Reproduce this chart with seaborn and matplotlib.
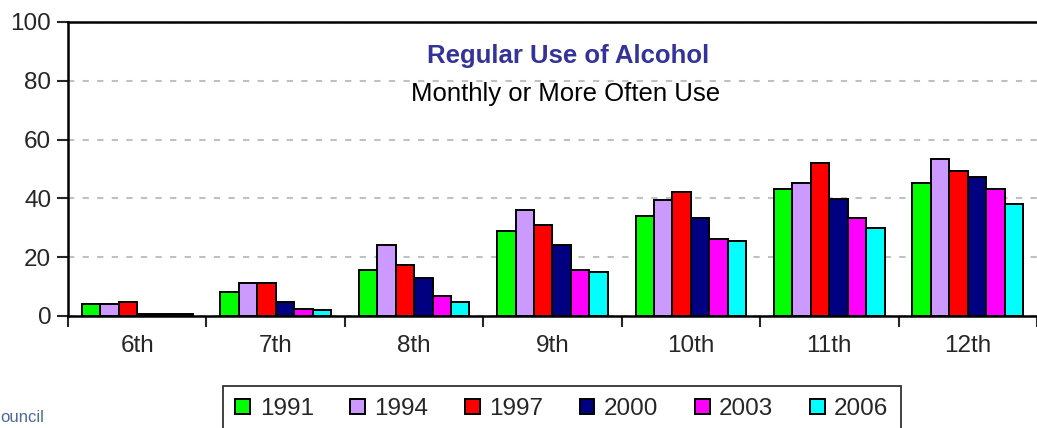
import pandas as pd
import matplotlib.pyplot as plt
import seaborn as sns

# Regular use of alcohol (monthly or more often), % by grade and survey year
grades = ["6th", "7th", "8th", "9th", "10th", "11th", "12th"]
years = ["1991", "1994", "1997", "2000", "2003", "2006"]
y1991 = [4.2, 8.2, 15.8, 29.0, 34.0, 43.1, 45.1]
y1994 = [4.2, 11.1, 24.1, 36.0, 39.6, 45.2, 53.5]
y1997 = [4.9, 11.1, 17.2, 31.1, 42.3, 52.1, 49.4]
y2000 = [0.8, 4.9, 13.0, 24.1, 33.4, 39.7, 47.2]
y2003 = [0.8, 2.5, 6.8, 15.8, 26.3, 33.3, 43.1]
y2006 = [0.8, 1.9, 4.7, 15.1, 25.6, 29.8, 38.1]
colors = ["#00ff00", "#cc99ff", "#ff0000", "#000080", "#ff00ff", "#00ffff"]

series = [y1991, y1994, y1997, y2000, y2003, y2006]
rows = []
for yr, vals in zip(years, series):
    for g, v in zip(grades, vals):
        rows.append({"grade": g, "year": yr, "pct": v})
df = pd.DataFrame(rows)

sns.set_style("white")
plt.rcParams["font.family"] = ["Liberation Sans", "DejaVu Sans"]

fig = plt.figure(figsize=(10.37, 4.28), dpi=100)
ax = fig.add_axes([68 / 1037, 1 - 316 / 428, 969 / 1037, 294 / 428])

sns.barplot(data=df, x="grade", y="pct", hue="year", order=grades,
            hue_order=years, palette=colors, saturation=1, edgecolor="black",
            linewidth=1.4, width=0.8, ax=ax, zorder=3)

ax.set_ylim(0, 100)
ax.set_xlim(-0.5, 6.42)
ax.set_yticks([0, 20, 40, 60, 80, 100])
ax.yaxis.grid(True, color="#c0c0c0", linestyle=(0, (3, 4)), linewidth=1.5, zorder=0)
ax.set_axisbelow(True)

# group boundary ticks as minor ticks, labels at centres
ax.set_xticks([i - 0.5 for i in range(8)], minor=True)
ax.tick_params(axis="x", which="major", length=0, labelsize=17.5, pad=14)
ax.tick_params(axis="x", which="minor", length=8, width=1.5, direction="out", bottom=True)
ax.tick_params(axis="y", length=8, width=1.5, direction="out", labelsize=17.5, left=True, pad=4)
ax.set_xlabel("")
ax.set_ylabel("")

for side in ["left", "bottom", "top"]:
    ax.spines[side].set_visible(True)
    ax.spines[side].set_color("black")
    ax.spines[side].set_linewidth(1.8)
ax.spines["right"].set_visible(False)

fig.text(568 / 1037, 1 - 56 / 428, "Regular Use of Alcohol", ha="center", va="center",
         fontsize=18.5, fontweight="bold", color="#333399")
fig.text(566 / 1037, 1 - 94 / 428, "Monthly or More Often Use", ha="center", va="center",
         fontsize=18.5, color="black")

handles, labels = ax.get_legend_handles_labels()
ax.get_legend().remove()
leg = fig.legend(handles, labels, ncol=6, loc="upper center",
                 bbox_to_anchor=(562 / 1037, 1 - 386 / 428), borderaxespad=0,
                 fontsize=17.5, frameon=True, fancybox=False, edgecolor="black",
                 handlelength=0.6, handleheight=0.6, handletextpad=0.4,
                 columnspacing=1.5, borderpad=0.5)
leg.get_frame().set_linewidth(1.3)

fig.text(0.0, 1 - 418 / 428, "ouncil", ha="left", va="center", fontsize=12, color="#4a6a9a")

fig.savefig("out.png", dpi=100)
